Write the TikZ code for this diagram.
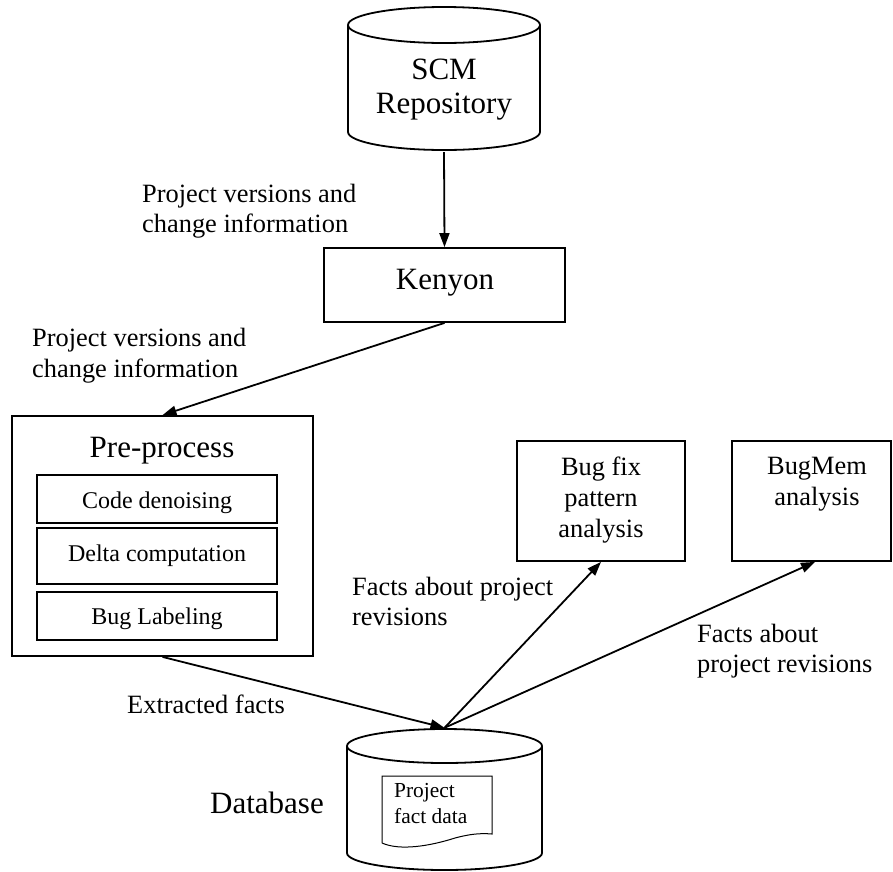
\documentclass[tikz,border=0pt]{standalone}
\usepackage{fontspec}
\setmainfont{Liberation Serif}
\usetikzlibrary{arrows.meta}
\tikzset{
  box/.style={draw, line width=1.8pt, rectangle, inner sep=0pt},
  ghost/.style={rectangle, inner sep=0pt},
  lbl/.style={font=\fontsize{26.4}{30.5}\selectfont, align=left, inner sep=0pt},
  big/.style={font=\fontsize{31}{33}\selectfont, inner sep=0pt},
  mid/.style={font=\fontsize{26.4}{31}\selectfont, align=center, inner sep=0pt},
  small/.style={font=\fontsize{24}{28}\selectfont, inner sep=0pt},
  arr/.style={-{Triangle[length=14pt,width=10pt]}, line width=1.8pt},
  cyl/.style={line width=1.8pt}
}
\begin{document}
\begin{tikzpicture}[x=1pt,y=-1pt]
\useasboundingbox (0,0) rectangle (893,871);

% SCM repository cylinder
\draw[cyl] (444,25) ellipse [x radius=96, y radius=18];
\draw[cyl] (348,25) -- (348,132) arc [start angle=180, end angle=360, x radius=96, y radius=-18] -- (540,25);
\node[ghost, minimum width=192pt, minimum height=145pt] (scm) at (444,79.5) {};
\node[font=\fontsize{31}{34}\selectfont, align=center, inner sep=0pt, anchor=north] (scmtext) at (444,59) {SCM\\Repository};

% Kenyon
\node[box, minimum width=241pt, minimum height=74pt] (kenyon) at (444.5,285) {};
\node[big, anchor=base] (kenyontext) at (445,289) {Kenyon};

% Pre-process
\node[box, minimum width=301pt, minimum height=240pt] (pre) at (162.5,536) {};
\node[big, anchor=base] (pretitle) at (162,457) {Pre-process};
\node[box, minimum width=240pt, minimum height=48pt] (denoise) at (157,499) {};
\node[small, anchor=base] (denoisetext) at (157,508) {Code denoising};
\node[box, minimum width=240pt, minimum height=56pt] (delta) at (157,556) {};
\node[small, anchor=base] (deltatext) at (157,561) {Delta computation};
\node[box, minimum width=240pt, minimum height=48pt] (label) at (157,616) {};
\node[small, anchor=base] (labeltext) at (157,624) {Bug Labeling};

% Analysis boxes
\node[box, minimum width=168pt, minimum height=120pt] (bugfix) at (601,501) {};
\node[mid, anchor=north] (bugfixtext) at (601,457) {Bug fix\\pattern\\analysis};
\node[box, minimum width=159pt, minimum height=120pt] (bugmem) at (811.5,501) {};
\node[mid, anchor=north] (bugmemtext) at (817,457) {BugMem\\analysis};

% Database cylinder
\draw[cyl] (444.5,746) ellipse [x radius=97.5, y radius=17];
\draw[cyl] (347,746) -- (347,853) arc [start angle=180, end angle=360, x radius=97.5, y radius=-17] -- (542,746);
\node[ghost, minimum width=195pt, minimum height=142pt] (db) at (444.5,799) {};
\draw[line width=1pt] (382,843) -- (382,776) -- (492,776) -- (492,834)
  .. controls (480,833) and (470,834) .. (455,838)
  .. controls (430,846) and (400,851) .. (382,843);
\node[font=\fontsize{21.4}{26}\selectfont, align=left, inner sep=0pt, anchor=north west] (doctext) at (394,783) {Project\\fact data};
\node[big, anchor=base west] (dblabel) at (210,813) {Database};

% Labels
\node[lbl, anchor=north west, font=\fontsize{26.4}{30}\selectfont] (l1) at (142,184) {Project versions and\\change information};
\node[lbl, anchor=north west, font=\fontsize{26.4}{31}\selectfont] (l2) at (32,328) {Project versions and\\change information};
\node[lbl, anchor=base west] (l3) at (127,713) {Extracted facts};
\node[lbl, anchor=north west, font=\fontsize{26.4}{30}\selectfont] (l4) at (352,577) {Facts about project\\revisions};
\node[lbl, anchor=north west, font=\fontsize{26.4}{30}\selectfont] (l5) at (697,624) {Facts about\\project revisions};

% Connectors
\draw[arr] (scm.south) -- (kenyon.north);
\draw[arr] (kenyon.south) -- (pre.north);
\draw[arr] (pre.south) -- (db.north);
\draw[arr] (db.north) -- (bugfix.south);
\draw[arr] (db.north) -- ([xshift=3.5pt]bugmem.south);
\end{tikzpicture}
\end{document}
